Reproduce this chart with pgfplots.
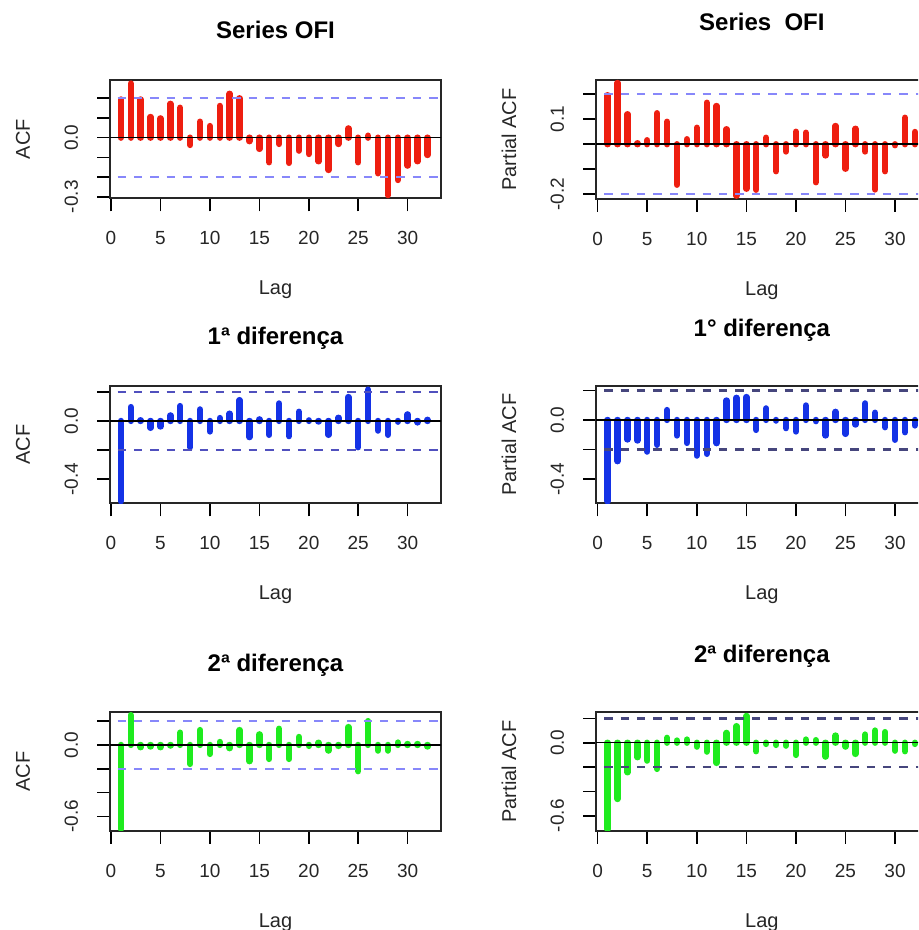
\documentclass[border=0pt]{standalone}
\usepackage{fontspec}
\setmainfont{Liberation Sans}
\usepackage{pgfplots}
\pgfplotsset{compat=1.18}

\definecolor{barred}{RGB}{238,30,16}
\definecolor{barblue}{RGB}{20,50,230}
\definecolor{bargreen}{RGB}{30,235,30}
\definecolor{climlight}{RGB}{135,135,250}
\definecolor{climmid}{RGB}{80,80,190}
\definecolor{climdark}{RGB}{70,70,125}

\pgfplotsset{
  acf/.style={
    scale only axis, anchor=south west,
    tick align=outside, xtick pos=bottom, ytick pos=left,
    major tick length=6.5pt,
    every tick/.append style={black, line width=0.8pt},
    axis line style={black!85, line width=1pt},
    xtick={0,5,10,15,20,25,30},
    xticklabels={0,5,10,15,20,25,30},
    tick label style={font=\fontsize{9.5}{10}\selectfont, text=black!85},
    xticklabel style={anchor=base, yshift=-16.8pt},
    yticklabel style={anchor=center, xshift=-12.8pt, rotate=90},
    every axis title/.style={at={(axis description cs:0.5,1)}, anchor=base, yshift=20.5pt,
      font=\bfseries\fontsize{12}{14}\selectfont},
    every axis x label/.style={at={(axis description cs:0.5,0)}, anchor=base, yshift=-48.3pt,
      font=\fontsize{10}{12}\selectfont, text=black!85},
    every axis y label/.style={at={(axis description cs:0,0.5)}, xshift=-43.5pt, rotate=90,
      anchor=center, font=\fontsize{10}{12}\selectfont, text=black!85},
    xlabel={Lag},
    bars/.style={ycomb, line width=3.2pt, line cap=round, mark=none},
    zero/.style={black, line width=0.75pt},
    clim/.style={line width=1.2pt, dash pattern=on 4.2pt off 4pt},
  },
  leftcol/.style={acf, width=165.5pt, xmin=-0.1, xmax=33.37, ylabel={ACF}},
  rightcol/.style={acf, width=165.85pt, xmin=-0.17, xmax=33.3, ylabel={Partial ACF},
    every axis title/.append style={yshift=4.2pt}},
}

\begin{document}
\begin{tikzpicture}
\useasboundingbox (0,0) rectangle (459pt,465pt);
\clip (0,0) rectangle (459pt,465pt);

% ---- Series OFI, ACF
\begin{axis}[leftcol, at={(55pt,365.85pt)}, height=59.15pt,
  ymin=-0.308, ymax=0.293,
  ytick={-0.3,-0.2,-0.1,0,0.1,0.2}, yticklabels={-0.3,{},{},0.0,{},{}},
  title={Series OFI}]
\addplot[bars, barred] coordinates {
 (1,0.194) (2,0.275) (3,0.194) (4,0.105) (5,0.098) (6,0.172) (7,0.152) (8,-0.037)
 (9,0.081) (10,0.059) (11,0.161) (12,0.223) (13,0.200) (14,-0.018) (15,-0.057) (16,-0.125)
 (17,-0.032) (18,-0.128) (19,-0.066) (20,-0.083) (21,-0.120) (22,-0.164) (23,-0.032) (24,0.047)
 (25,-0.125) (26,0.010) (27,-0.181) (28,-0.292) (29,-0.215) (30,-0.142) (31,-0.120) (32,-0.088)};
\addplot[zero] coordinates {(-1,0) (34,0)};
\addplot[clim, climlight] coordinates {(-1,0.2) (34,0.2)};
\addplot[clim, climlight] coordinates {(-1,-0.2) (34,-0.2)};
\end{axis}

% ---- Series OFI, PACF
\begin{axis}[rightcol, at={(298pt,365.5pt)}, height=59.5pt,
  ymin=-0.219, ymax=0.257,
  ytick={-0.2,-0.1,0,0.1,0.2}, yticklabels={-0.2,{},{},0.1,{}},
  title={Series\ \ OFI}]
\addplot[bars, barred] coordinates {
 (1,0.196) (2,0.245) (3,0.120) (4,0.004) (5,0.016) (6,0.124) (7,0.090) (8,-0.162)
 (9,0.020) (10,0.066) (11,0.166) (12,0.153) (13,0.060) (14,-0.206) (15,-0.178) (16,-0.182)
 (17,0.026) (18,-0.108) (19,-0.029) (20,0.050) (21,0.046) (22,-0.152) (23,-0.045) (24,0.073)
 (25,-0.098) (26,0.062) (27,-0.029) (28,-0.181) (29,-0.108) (30,-0.004) (31,0.106) (32,0.049)};
\addplot[zero] coordinates {(-1,0) (34,0)};
\addplot[clim, climlight] coordinates {(-1,0.2) (34,0.2)};
\addplot[clim, climlight] coordinates {(-1,-0.2) (34,-0.2)};
\end{axis}

% ---- 1a diferenca, ACF
\begin{axis}[leftcol, at={(55pt,213.35pt)}, height=58.65pt,
  ymin=-0.565, ymax=0.240,
  ytick={-0.4,-0.2,0,0.2}, yticklabels={-0.4,{},0.0,{}},
  title={1ª diferença}]
\addplot[bars, barblue] coordinates {
 (1,-0.550) (2,0.095) (3,0.005) (4,-0.047) (5,-0.038) (6,0.038) (7,0.102) (8,-0.180)
 (9,0.079) (10,-0.072) (11,0.020) (12,0.050) (13,0.143) (14,-0.111) (15,0.011) (16,-0.095)
 (17,0.120) (18,-0.104) (19,0.063) (20,0.004) (21,-0.004) (22,-0.095) (23,0.022) (24,0.164)
 (25,-0.180) (26,0.215) (27,-0.066) (28,-0.095) (29,-0.005) (30,0.045) (31,-0.010) (32,0.008)};
\addplot[zero] coordinates {(-1,0) (34,0)};
\addplot[clim, climmid] coordinates {(-1,0.2) (34,0.2)};
\addplot[clim, climmid] coordinates {(-1,-0.2) (34,-0.2)};
\end{axis}

% ---- 1o diferenca, PACF
\begin{axis}[rightcol, at={(298pt,213.35pt)}, height=58.65pt,
  ymin=-0.564, ymax=0.230,
  ytick={-0.4,-0.2,0,0.2}, yticklabels={-0.4,{},0.0,{}},
  title={1° diferença}]
\addplot[bars, barblue] coordinates {
 (1,-0.550) (2,-0.279) (3,-0.132) (4,-0.139) (5,-0.214) (6,-0.168) (7,0.067) (8,-0.105)
 (9,-0.155) (10,-0.241) (11,-0.229) (12,-0.157) (13,0.132) (14,0.150) (15,0.155) (16,-0.067)
 (17,0.078) (18,-0.004) (19,-0.055) (20,-0.078) (21,0.098) (22,-0.008) (23,-0.105) (24,0.055)
 (25,-0.094) (26,-0.031) (27,0.112) (28,0.049) (29,-0.049) (30,-0.134) (31,-0.083) (32,-0.037)};
\addplot[zero] coordinates {(-1,0) (34,0)};
\addplot[clim, climdark] coordinates {(-1,0.2) (34,0.2)};
\addplot[clim, climdark] coordinates {(-1,-0.2) (34,-0.2)};
\end{axis}

% ---- 2a diferenca, ACF
\begin{axis}[leftcol, at={(55pt,49.65pt)}, height=59.2pt,
  ymin=-0.719, ymax=0.274,
  ytick={-0.6,-0.4,-0.2,0,0.2}, yticklabels={-0.6,{},{},0.0,{}},
  title={2ª diferença}]
\addplot[bars, bargreen] coordinates {
 (1,-0.705) (2,0.250) (3,-0.019) (4,-0.013) (5,-0.019) (6,-0.005) (7,0.103) (8,-0.159)
 (9,0.125) (10,-0.075) (11,0.025) (12,-0.027) (13,0.125) (14,-0.136) (15,0.089) (16,-0.117)
 (17,0.136) (18,-0.117) (19,0.067) (20,-0.008) (21,0.019) (22,-0.047) (23,-0.008) (24,0.150)
 (25,-0.220) (26,0.200) (27,-0.047) (28,-0.047) (29,0.020) (30,0.008) (31,0.008) (32,-0.013)};
\addplot[zero] coordinates {(-1,0) (34,0)};
\addplot[clim, climlight] coordinates {(-1,0.2) (34,0.2)};
\addplot[clim, climlight] coordinates {(-1,-0.2) (34,-0.2)};
\end{axis}

% ---- 2a diferenca, PACF
\begin{axis}[rightcol, at={(298pt,49.65pt)}, height=59.2pt,
  ymin=-0.723, ymax=0.250,
  ytick={-0.6,-0.4,-0.2,0,0.2}, yticklabels={-0.6,{},{},0.0,{}},
  title={2ª diferença}]
\addplot[bars, bargreen] coordinates {
 (1,-0.710) (2,-0.462) (3,-0.243) (4,-0.119) (5,-0.147) (6,-0.215) (7,0.040) (8,0.018)
 (9,0.026) (10,-0.032) (11,-0.073) (12,-0.166) (13,0.081) (14,0.136) (15,0.220) (16,-0.070)
 (17,-0.010) (18,-0.018) (19,-0.024) (20,-0.100) (21,0.026) (22,0.021) (23,-0.114) (24,0.059)
 (25,-0.032) (26,-0.092) (27,0.067) (28,0.100) (29,0.087) (30,-0.065) (31,-0.070) (32,-0.010)};
\addplot[zero] coordinates {(-1,0) (34,0)};
\addplot[clim, climdark] coordinates {(-1,0.2) (34,0.2)};
\addplot[clim, climdark] coordinates {(-1,-0.2) (34,-0.2)};
\end{axis}
\end{tikzpicture}
\end{document}
